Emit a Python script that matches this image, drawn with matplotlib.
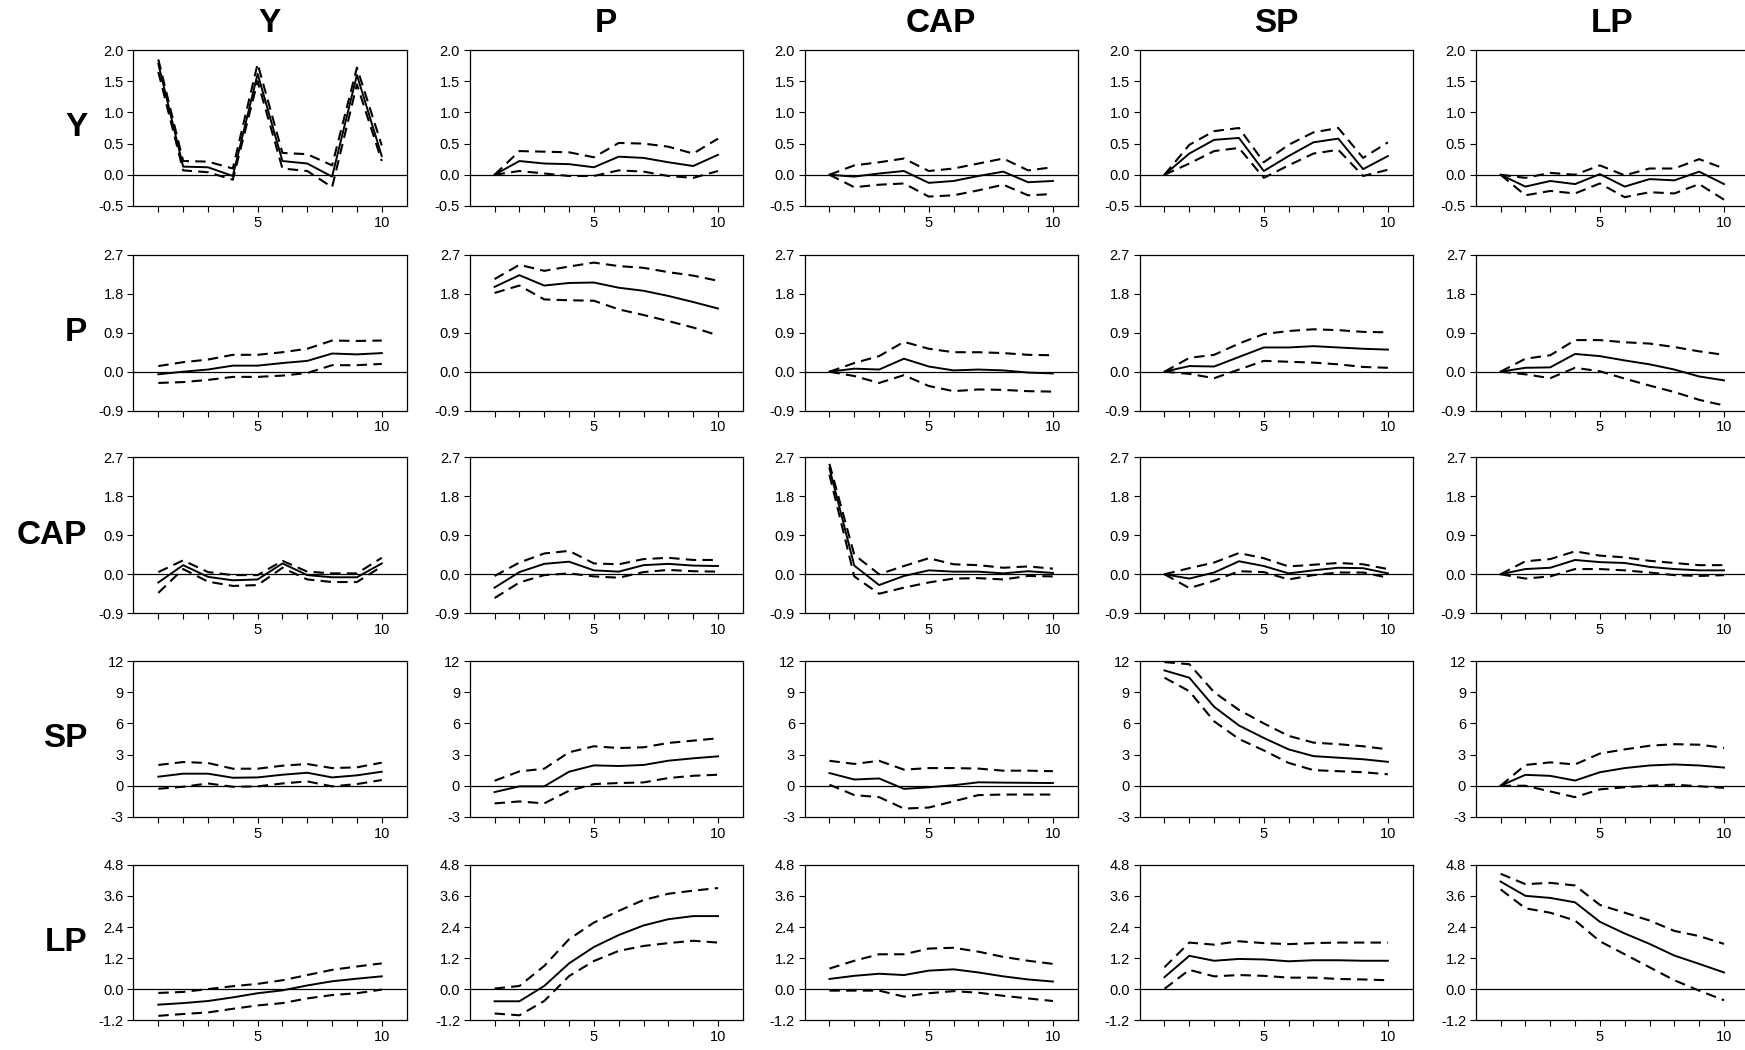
import matplotlib
matplotlib.use("Agg")
import matplotlib.pyplot as plt

# variables (shocks across columns, responses down rows)
names = ["Y", "P", "CAP", "SP", "LP"]
periods = [1, 2, 3, 4, 5, 6, 7, 8, 9, 10]

# y-axis setup per response row
row_ticks = [
    [-0.5, 0.0, 0.5, 1.0, 1.5, 2.0],
    [-0.9, 0.0, 0.9, 1.8, 2.7],
    [-0.9, 0.0, 0.9, 1.8, 2.7],
    [-3, 0, 3, 6, 9, 12],
    [-1.2, 0.0, 1.2, 2.4, 3.6, 4.8],
]
row_fmt = ["%.1f", "%.1f", "%.1f", "%d", "%.1f"]

# ---- response of Y (columns: shock to Y, P, CAP, SP, LP) ----
Y_mid = [
    [1.78, 0.13, 0.12, -0.02, 1.62, 0.22, 0.18, -0.03, 1.60, 0.30],
    [0.0, 0.22, 0.18, 0.17, 0.12, 0.29, 0.27, 0.20, 0.14, 0.32],
    [0.0, -0.03, 0.02, 0.06, -0.13, -0.10, -0.02, 0.05, -0.12, -0.10],
    [0.0, 0.34, 0.56, 0.59, 0.06, 0.30, 0.52, 0.58, 0.09, 0.30],
    [0.0, -0.19, -0.10, -0.15, 0.01, -0.19, -0.07, -0.09, 0.05, -0.15],
]
Y_hi = [
    [1.85, 0.22, 0.21, 0.10, 1.78, 0.35, 0.33, 0.15, 1.72, 0.47],
    [0.0, 0.38, 0.37, 0.36, 0.28, 0.51, 0.50, 0.45, 0.34, 0.58],
    [0.0, 0.15, 0.20, 0.26, 0.06, 0.10, 0.18, 0.26, 0.07, 0.12],
    [0.0, 0.48, 0.70, 0.75, 0.20, 0.48, 0.68, 0.75, 0.27, 0.52],
    [0.0, -0.05, 0.03, 0.00, 0.15, -0.01, 0.10, 0.10, 0.25, 0.10],
]
Y_lo = [
    [1.65, 0.07, 0.04, -0.08, 1.50, 0.10, 0.06, -0.20, 1.45, 0.22],
    [0.0, 0.06, 0.02, -0.02, -0.02, 0.07, 0.05, -0.02, -0.05, 0.06],
    [0.0, -0.20, -0.16, -0.14, -0.35, -0.33, -0.25, -0.16, -0.33, -0.31],
    [0.0, 0.18, 0.38, 0.43, -0.05, 0.15, 0.34, 0.40, -0.02, 0.08],
    [0.0, -0.33, -0.26, -0.30, -0.14, -0.36, -0.28, -0.30, -0.15, -0.40],
]

# ---- response of P ----
P_mid = [
    [-0.06, 0.0, 0.05, 0.14, 0.14, 0.20, 0.25, 0.42, 0.40, 0.43],
    [1.96, 2.23, 1.99, 2.05, 2.06, 1.94, 1.87, 1.75, 1.61, 1.46],
    [0.0, 0.07, 0.05, 0.30, 0.12, 0.03, 0.05, 0.03, -0.02, -0.04],
    [0.0, 0.13, 0.12, 0.34, 0.56, 0.56, 0.59, 0.56, 0.53, 0.51],
    [0.0, 0.09, 0.10, 0.41, 0.36, 0.26, 0.17, 0.05, -0.11, -0.20],
]
P_hi = [
    [0.13, 0.22, 0.28, 0.39, 0.39, 0.45, 0.53, 0.72, 0.71, 0.72],
    [2.14, 2.47, 2.33, 2.43, 2.52, 2.44, 2.40, 2.30, 2.22, 2.10],
    [0.0, 0.20, 0.36, 0.69, 0.53, 0.45, 0.45, 0.43, 0.39, 0.38],
    [0.0, 0.32, 0.39, 0.65, 0.87, 0.94, 0.98, 0.96, 0.92, 0.91],
    [0.0, 0.30, 0.38, 0.73, 0.73, 0.68, 0.65, 0.57, 0.47, 0.39],
]
P_lo = [
    [-0.26, -0.24, -0.19, -0.12, -0.12, -0.09, -0.03, 0.15, 0.15, 0.18],
    [1.82, 1.99, 1.67, 1.65, 1.64, 1.44, 1.31, 1.17, 1.02, 0.84],
    [0.0, -0.10, -0.26, -0.08, -0.33, -0.45, -0.41, -0.42, -0.45, -0.46],
    [0.0, -0.05, -0.15, 0.05, 0.25, 0.23, 0.21, 0.17, 0.11, 0.09],
    [0.0, -0.06, -0.15, 0.09, 0.01, -0.16, -0.32, -0.47, -0.65, -0.78],
]

# ---- response of CAP ----
CAP_mid = [
    [-0.19, 0.21, -0.06, -0.14, -0.12, 0.25, -0.02, -0.07, -0.07, 0.25],
    [-0.31, 0.05, 0.24, 0.29, 0.09, 0.06, 0.21, 0.24, 0.20, 0.19],
    [2.45, 0.20, -0.25, -0.04, 0.09, 0.06, 0.06, 0.02, 0.07, 0.03],
    [0.0, -0.10, 0.04, 0.30, 0.19, 0.02, 0.09, 0.15, 0.14, 0.02],
    [0.0, 0.12, 0.15, 0.33, 0.28, 0.26, 0.17, 0.12, 0.09, 0.09],
]
CAP_hi = [
    [0.05, 0.32, 0.05, -0.02, -0.02, 0.31, 0.06, 0.02, 0.02, 0.38],
    [-0.04, 0.27, 0.48, 0.54, 0.25, 0.23, 0.35, 0.38, 0.33, 0.33],
    [2.55, 0.45, 0.00, 0.19, 0.37, 0.23, 0.21, 0.15, 0.18, 0.13],
    [0.0, 0.14, 0.27, 0.49, 0.37, 0.18, 0.22, 0.26, 0.23, 0.12],
    [0.0, 0.30, 0.35, 0.53, 0.43, 0.39, 0.31, 0.26, 0.21, 0.21],
]
CAP_lo = [
    [-0.43, 0.12, -0.17, -0.27, -0.25, 0.15, -0.12, -0.18, -0.18, 0.18],
    [-0.55, -0.19, -0.02, 0.02, -0.05, -0.08, 0.05, 0.10, 0.07, 0.06],
    [2.30, -0.05, -0.45, -0.31, -0.19, -0.10, -0.09, -0.12, -0.04, -0.05],
    [0.0, -0.32, -0.15, 0.07, 0.05, -0.12, -0.02, 0.04, 0.04, -0.08],
    [0.0, -0.10, -0.05, 0.12, 0.12, 0.09, 0.04, -0.02, -0.04, -0.02],
]

# ---- response of SP ----
SP_mid = [
    [0.87, 1.16, 1.16, 0.77, 0.80, 1.06, 1.25, 0.80, 1.00, 1.35],
    [-0.61, -0.06, -0.06, 1.35, 1.96, 1.90, 2.00, 2.41, 2.64, 2.83],
    [1.22, 0.60, 0.70, -0.30, -0.15, 0.05, 0.33, 0.30, 0.28, 0.26],
    [11.1, 10.4, 7.6, 5.8, 4.6, 3.5, 2.85, 2.7, 2.55, 2.3],
    [0.0, 1.05, 0.95, 0.50, 1.30, 1.70, 1.95, 2.05, 1.95, 1.75],
]
SP_hi = [
    [2.00, 2.28, 2.19, 1.64, 1.64, 1.93, 2.09, 1.70, 1.77, 2.22],
    [0.48, 1.38, 1.64, 3.22, 3.80, 3.63, 3.70, 4.12, 4.34, 4.57],
    [2.40, 2.10, 2.40, 1.55, 1.70, 1.70, 1.65, 1.45, 1.45, 1.40],
    [11.9, 11.7, 9.0, 7.3, 6.0, 4.8, 4.15, 4.0, 3.8, 3.5],
    [0.0, 2.00, 2.25, 2.05, 3.10, 3.50, 3.85, 4.00, 3.95, 3.65],
]
SP_lo = [
    [-0.29, -0.10, 0.22, -0.10, -0.06, 0.22, 0.42, -0.06, 0.16, 0.55],
    [-1.70, -1.51, -1.70, -0.48, 0.16, 0.26, 0.32, 0.74, 0.96, 1.06],
    [0.10, -0.90, -1.10, -2.20, -2.10, -1.50, -0.90, -0.85, -0.85, -0.85],
    [10.4, 9.1, 6.2, 4.5, 3.4, 2.2, 1.5, 1.4, 1.3, 1.1],
    [0.0, 0.00, -0.55, -1.10, -0.35, -0.15, 0.00, 0.10, -0.05, -0.20],
]

# ---- response of LP ----
LP_mid = [
    [-0.59, -0.53, -0.45, -0.31, -0.15, -0.04, 0.15, 0.31, 0.41, 0.50],
    [-0.46, -0.46, 0.13, 1.00, 1.63, 2.09, 2.46, 2.70, 2.82, 2.82],
    [0.40, 0.52, 0.60, 0.55, 0.72, 0.77, 0.65, 0.50, 0.38, 0.30],
    [0.47, 1.29, 1.10, 1.17, 1.15, 1.08, 1.12, 1.12, 1.10, 1.10],
    [4.15, 3.60, 3.52, 3.35, 2.60, 2.15, 1.75, 1.30, 0.98, 0.65],
]
LP_hi = [
    [-0.14, -0.10, 0.01, 0.12, 0.21, 0.35, 0.55, 0.75, 0.88, 1.00],
    [0.03, 0.13, 0.90, 1.93, 2.57, 3.02, 3.44, 3.68, 3.80, 3.90],
    [0.80, 1.10, 1.35, 1.35, 1.57, 1.60, 1.45, 1.25, 1.10, 0.98],
    [0.85, 1.80, 1.72, 1.85, 1.78, 1.74, 1.78, 1.80, 1.80, 1.80],
    [4.45, 4.05, 4.10, 4.00, 3.25, 2.95, 2.65, 2.25, 2.05, 1.75],
]
LP_lo = [
    [-1.02, -0.95, -0.89, -0.75, -0.62, -0.53, -0.35, -0.22, -0.15, -0.01],
    [-0.93, -1.00, -0.45, 0.51, 1.09, 1.48, 1.67, 1.78, 1.87, 1.80],
    [-0.05, -0.05, -0.05, -0.28, -0.15, -0.07, -0.13, -0.25, -0.35, -0.45],
    [0.02, 0.75, 0.50, 0.55, 0.52, 0.45, 0.45, 0.40, 0.38, 0.35],
    [3.85, 3.12, 2.95, 2.65, 1.85, 1.35, 0.85, 0.35, -0.05, -0.42],
]

mids = [Y_mid, P_mid, CAP_mid, SP_mid, LP_mid]
his = [Y_hi, P_hi, CAP_hi, SP_hi, LP_hi]
los = [Y_lo, P_lo, CAP_lo, SP_lo, LP_lo]

plt.rcParams["font.family"] = ["Liberation Sans Narrow", "Liberation Sans", "DejaVu Sans"]

fig = plt.figure(figsize=(17.45, 10.5), dpi=100)

col_left = [0.0765, 0.2692, 0.4611, 0.6531, 0.8457]
row_bottom = [0.8039, 0.6089, 0.4160, 0.2220, 0.0281]
ax_w, ax_h = 0.1565, 0.1484

dash = (0, (5, 3))
head_font = ["Liberation Sans", "DejaVu Sans"]

for i in range(5):
    for j in range(5):
        ax = fig.add_axes([col_left[j], row_bottom[i], ax_w, ax_h])
        ax.plot(periods, mids[i][j], color="black", lw=1.4)
        ax.plot(periods, his[i][j], color="black", lw=1.5, linestyle=dash)
        ax.plot(periods, los[i][j], color="black", lw=1.5, linestyle=dash)
        ax.axhline(0, color="black", lw=0.9)

        ax.set_xlim(0, 11)
        ax.set_xticks(periods)
        ax.set_xticklabels(["5" if p == 5 else "10" if p == 10 else "" for p in periods])
        ticks = row_ticks[i]
        ax.set_ylim(ticks[0], ticks[-1])
        ax.set_yticks(ticks)
        ax.set_yticklabels([row_fmt[i] % t for t in ticks])
        ax.tick_params(direction="out", length=4, width=0.8, labelsize=10.5, pad=3)
        for s in ax.spines.values():
            s.set_linewidth(0.9)

        if i == 0:
            fig.text(col_left[j] + ax_w / 2, 0.978, names[j], ha="center", va="center",
                     fontsize=24, fontweight="bold", family=head_font)
    fig.text(0.050, row_bottom[i] + ax_h / 2, names[i], ha="right", va="center",
             fontsize=24, fontweight="bold", family=head_font)

fig.savefig("out.png", dpi=100)
